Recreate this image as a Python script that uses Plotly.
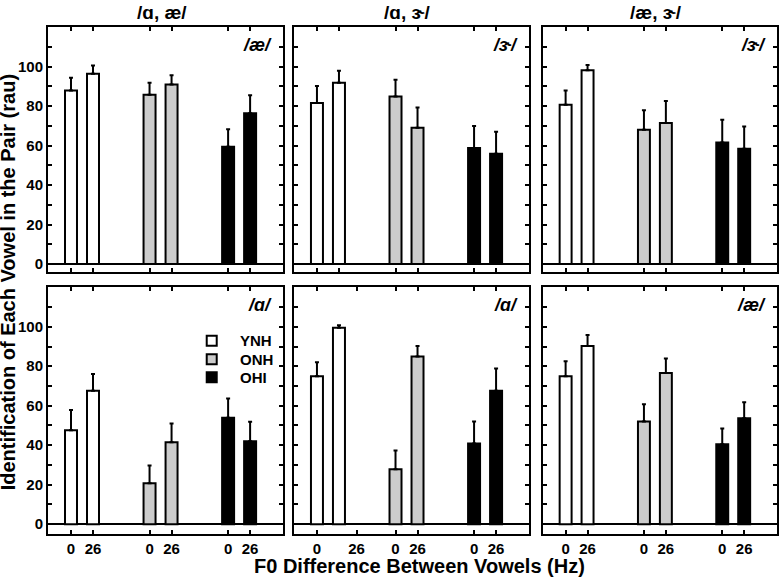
import plotly.graph_objects as go

# ---------------- data ----------------
groups = ["YNH", "ONH", "OHI"]
f0_labels = ["0", "26"]
pair_titles = ["/ɑ, æ/", "/ɑ, ɝ/", "/æ, ɝ/"]
panel_vowels = ["/æ/", "/ɝ/", "/ɝ/", "/ɑ/", "/ɑ/", "/æ/"]

# mean identification (rau), per panel: [F0=0, F0=26]
ynh_mean = [[87.9, 96.3], [81.5, 91.8], [80.6, 98.1], [47.6, 67.6], [74.9, 99.5], [74.9, 90.3]]
onh_mean = [[85.7, 90.9], [84.8, 69.0], [68.0, 71.4], [20.7, 41.5], [27.8, 84.9], [52.0, 76.6]]
ohi_mean = [[59.4, 76.4], [58.8, 55.9], [61.6, 58.4], [53.9, 42.0], [40.8, 67.6], [40.5, 53.7]]
# standard errors (upper error bars)
ynh_err = [[6.4, 4.2], [8.6, 6.0], [7.3, 2.7], [10.2, 8.5], [7.1, 1.3], [7.6, 5.5]]
onh_err = [[6.1, 4.7], [8.5, 10.3], [9.9, 11.1], [9.0, 9.5], [9.5, 5.4], [8.8, 7.3]]
ohi_err = [[8.8, 9.0], [11.1, 11.1], [11.5, 11.3], [9.7, 9.9], [11.2, 11.2], [8.0, 8.0]]

y_ticks = [0, 20, 40, 60, 80, 100]

# ---------------- styling / layout ----------------
means = {"YNH": ynh_mean, "ONH": onh_mean, "OHI": ohi_mean}
errs = {"YNH": ynh_err, "ONH": onh_err, "OHI": ohi_err}
fills = {"YNH": "#ffffff", "ONH": "#cccccc", "OHI": "#000000"}

GROUP_GAP = 3.57
BAR_W = 0.545
XR = [-1.045, 9.636]
FONT = "Liberation Sans, Arial, sans-serif"

col_dom = [[0.0, 0.3224], [0.3374, 0.6598], [0.6786, 1.0]]
row_dom = [[0.5168, 1.0], [0.0, 0.4866]]
y_ranges = [[-4, 120], [-5, 120]]

def pos(g, c):
    return g * GROUP_GAP + c

fig = go.Figure()
annotations = []
shapes = []

for k in range(6):
    r, c = divmod(k, 3)
    ax = "" if k == 0 else str(k + 1)
    for gi, g in enumerate(groups):
        fig.add_trace(go.Bar(
            x=[pos(gi, 0), pos(gi, 1)],
            y=means[g][k],
            width=BAR_W,
            marker=dict(color=fills[g], line=dict(color="black", width=2)),
            error_y=dict(type="data", array=errs[g][k], arrayminus=[0, 0],
                         symmetric=False, color="black", thickness=2, width=2),
            name=g,
            showlegend=False,
            hoverinfo="skip",
            xaxis="x" + ax, yaxis="y" + ax,
        ))
    tickvals = [pos(gi, ci) for gi in range(3) for ci in range(2)]
    if k == 4:
        tickvals[1] += 0.8  # label misplaced in the original figure
    fig.layout["xaxis" + ax] = dict(
        domain=col_dom[c], anchor="y" + ax, range=XR, automargin=False,
        tickvals=tickvals,
        ticktext=f0_labels * 3,
        showticklabels=(r == 1),
        ticks="inside", ticklen=4, tickwidth=1.5, tickcolor="black",
        showline=True, linecolor="black", linewidth=2, mirror="ticks",
        showgrid=False, zeroline=False, fixedrange=True,
        tickfont=dict(family=FONT, size=15, color="black", weight="bold"),
    )
    yvals = list(range(0, 120, 10))
    fig.layout["yaxis" + ax] = dict(
        domain=row_dom[r], anchor="x" + ax, range=y_ranges[r], automargin=False,
        tickvals=yvals,
        ticktext=[str(v) if v in y_ticks else "" for v in yvals],
        showticklabels=(c == 0),
        ticks="inside", ticklen=4, tickwidth=1.5, tickcolor="black",
        showline=True, linecolor="black", linewidth=2, mirror="ticks",
        showgrid=False, fixedrange=True,
        zeroline=True, zerolinecolor="black", zerolinewidth=2,
        tickfont=dict(family=FONT, size=15, color="black", weight="bold"),
    )
    annotations.append(dict(
        text=panel_vowels[k], xref="x" + ax + " domain", yref="y" + ax + " domain",
        x=1, y=1, xanchor="right", yanchor="middle", xshift=-9, yshift=-18,
        showarrow=False,
        font=dict(family=FONT, size=18, color="black", weight="bold", style="italic"),
    ))

for c in range(3):
    annotations.append(dict(
        text=pair_titles[c], xref="paper", yref="paper",
        x=sum(col_dom[c]) / 2, y=1.0282, xanchor="center", yanchor="middle",
        xshift=-4, showarrow=False,
        font=dict(family=FONT, size=19, color="black", weight="bold"),
    ))

annotations.append(dict(
    text="F0 Difference Between Vowels (Hz)", xref="paper", yref="paper",
    x=0.510, y=-0.064, xanchor="center", yanchor="middle", showarrow=False,
    font=dict(family=FONT, size=20, color="black", weight="bold"),
))
annotations.append(dict(
    text="Identification of Each Vowel in the Pair (rau)", xref="paper", yref="paper",
    x=-0.0545, y=0.497, xanchor="center", yanchor="middle", textangle=-90,
    showarrow=False,
    font=dict(family=FONT, size=20, color="black", weight="bold"),
))

# legend drawn inside the lower-left panel
leg_x = 0.6966
leg_y = [0.7835, 0.7081, 0.6352]
for gi, g in enumerate(groups):
    shapes.append(dict(
        type="rect", xref="x4 domain", yref="y4 domain",
        x0=-5, x1=5, y0=-5, y1=5,
        xsizemode="pixel", ysizemode="pixel",
        xanchor=leg_x, yanchor=leg_y[gi],
        fillcolor=fills[g], line=dict(color="black", width=2),
    ))
    annotations.append(dict(
        text=g, xref="x4 domain", yref="y4 domain",
        x=0.8085, y=leg_y[gi], xanchor="left", yanchor="middle", showarrow=False,
        font=dict(family=FONT, size=15, color="black", weight="bold"),
    ))

fig.update_layout(
    template="none",
    width=780, height=578,
    margin=dict(l=48, r=3, t=27, b=44),
    paper_bgcolor="white", plot_bgcolor="white",
    barmode="overlay",
    showlegend=False,
    annotations=annotations,
    shapes=shapes,
)

fig.write_html("out.html", config={"displayModeBar": False},
               post_script="document.body.style.margin='0';")
